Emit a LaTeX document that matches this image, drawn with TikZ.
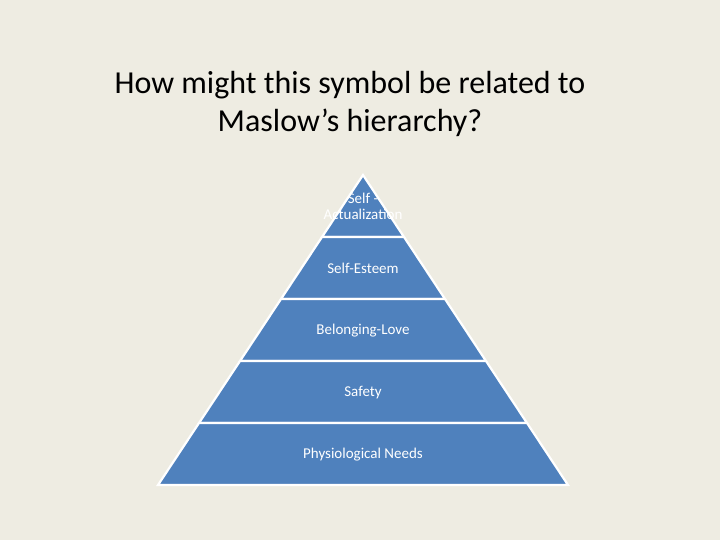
\documentclass[tikz,border=0pt]{standalone}
\usepackage{fontspec}
\setmainfont{Carlito}
\definecolor{slidebg}{RGB}{238,236,226}
\definecolor{tierblue}{RGB}{79,129,189}
\tikzset{
  tier/.style={fill=tierblue, draw=white, line width=2.2pt, line join=miter},
  tierlabel/.style={text=white, align=center, inner sep=0pt, font=\fontsize{15}{16}\selectfont},
  titletext/.style={align=center, font=\fontsize{32}{38}\selectfont}
}
\begin{document}
\begin{tikzpicture}[x=1pt, y=-1pt]
  % 1. background
  \fill[slidebg] (0,0) rectangle (720,540);
  \useasboundingbox (0,0) rectangle (720,540);

  % 2. title
  \node[titletext] (title) at (350,104) {How might this symbol be related to\\Maslow’s hierarchy?};

  % 3. pyramid tiers (apex 363,175; base 158--568 at y=485)
  \filldraw[tier] (363,175) -- (404,237) -- (322,237) -- cycle;
  \filldraw[tier] (322,237) -- (404,237) -- (445,299) -- (281,299) -- cycle;
  \filldraw[tier] (281,299) -- (445,299) -- (486,361) -- (240,361) -- cycle;
  \filldraw[tier] (240,361) -- (486,361) -- (527,423) -- (199,423) -- cycle;
  \filldraw[tier] (199,423) -- (527,423) -- (568,485) -- (158,485) -- cycle;

  % 4. tier labels
  \node[tierlabel] (actual) at (363,206) {Self -\\Actualization};
  \node[tierlabel] (esteem) at (363,268) {Self-Esteem};
  \node[tierlabel] (love) at (363,331) {Belonging-Love};
  \node[tierlabel] (safety) at (363,393) {Safety};
  \node[tierlabel] (needs) at (363,455) {Physiological Needs};
\end{tikzpicture}
\end{document}
